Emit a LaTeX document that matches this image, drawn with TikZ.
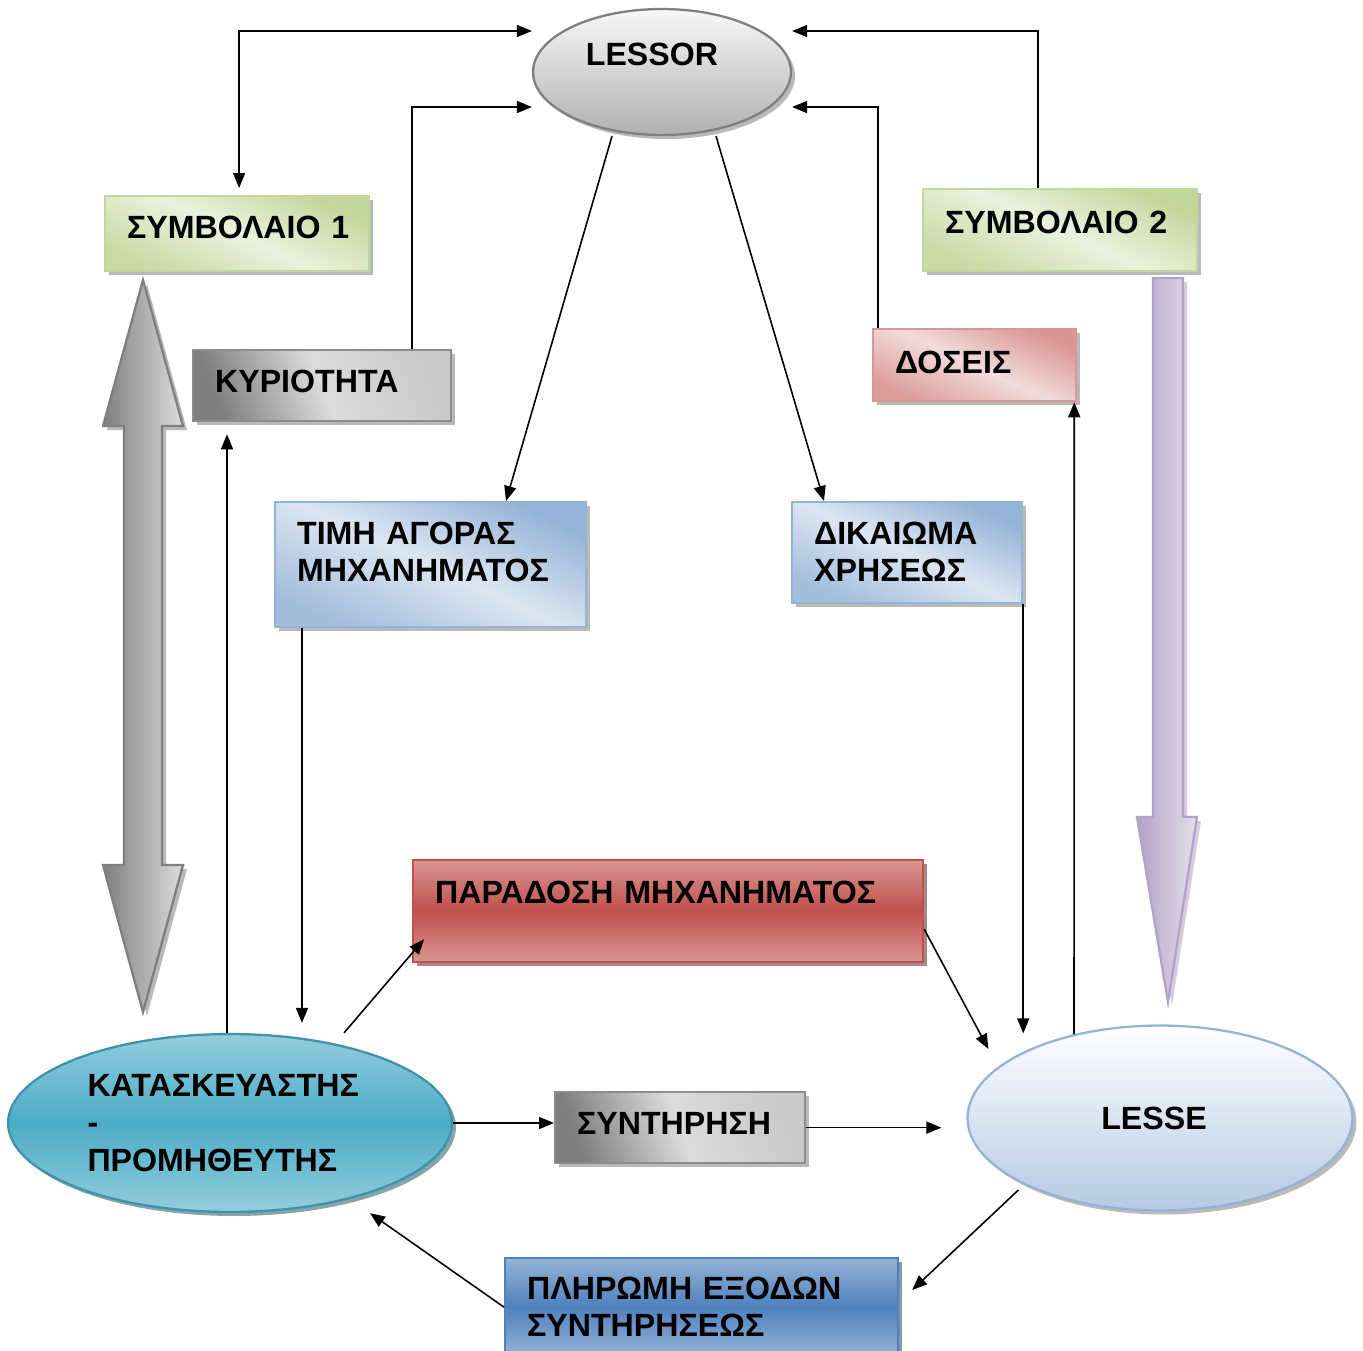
\documentclass[tikz,border=0pt]{standalone}
\usepackage{fontspec}
\setmainfont{Liberation Sans}
\usetikzlibrary{calc,positioning,shapes.geometric,shadows,arrows.meta}

\definecolor{olvDark}{HTML}{C3D69B}
\definecolor{olvLight}{HTML}{EBF1DE}
\definecolor{grDark}{HTML}{7F7F7F}
\definecolor{grLight}{HTML}{DCDCDC}
\definecolor{pinkDark}{HTML}{D99694}
\definecolor{pinkLight}{HTML}{F2DCDB}
\definecolor{bluDark}{HTML}{95B3D7}
\definecolor{bluLight}{HTML}{DCE6F2}
\definecolor{bluMid}{HTML}{4F81BD}
\definecolor{redMid}{HTML}{C0504D}
\definecolor{redShadow}{HTML}{632523}
\definecolor{tealMid}{HTML}{4BACC6}
\definecolor{tealLight}{HTML}{93CDDD}
\definecolor{tealShadow}{HTML}{215968}
\definecolor{lilDark}{HTML}{B3A2C7}
\definecolor{lilLight}{HTML}{E5E0EC}

\begin{document}
\begin{tikzpicture}[x=0.02cm, y=-0.02cm
        , every node/.style={font=\fontsize{18.3}{21.5}\selectfont\bfseries}
        , >={Triangle[length=0.3cm,width=0.24cm]}
        , conn/.style={line width=0.9pt, ->}
        , shad/.style={drop shadow={shadow xshift=0.08cm, shadow yshift=-0.08cm, fill=#1, opacity=0.55}}
        , shad/.default=gray
        , box/.style={draw, line width=1.3pt, rectangle, anchor=north west, inner xsep=0.44cm, inner ysep=0pt, align=left}
        , ell/.style={draw, line width=1.3pt, ellipse, inner sep=0pt}
        , greenbox/.style={box, shad, draw=olvDark, top color=olvDark, bottom color=olvDark!85!olvLight, middle color=olvLight, shading angle=-25}
        , graybox/.style={box, shad, draw=grDark!90, left color=grDark, right color=grLight!80!grDark, middle color=grLight, shading angle=110}
        , pinkbox/.style={box, shad, draw=pinkDark, top color=pinkDark, bottom color=pinkDark!90!pinkLight, middle color=pinkLight, shading angle=-25}
        , bluebox/.style={box, shad, draw=bluDark, top color=bluDark, bottom color=bluDark!80!bluLight, middle color=bluLight, shading angle=-25}
        ]
        \useasboundingbox (0,0) rectangle (1363,1350);

        % block arrows
        \draw[line width=1.3pt, draw=grDark, left color=grDark, right color=grLight, shad]
            (143,280) -- (183,426) -- (162,426) -- (162,865) -- (183,865) -- (143,1012)
            -- (103,865) -- (124,865) -- (124,426) -- (103,426) -- cycle;
        \draw[line width=1.3pt, draw=lilDark, left color=lilDark, right color=lilLight, shad=lilDark]
            (1153,278) -- (1183,278) -- (1183,817) -- (1197,817) -- (1168,1002)
            -- (1137,817) -- (1153,817) -- cycle;

        \node[ell, draw=grDark, shad, top color=white!94!gray, bottom color=gray!62,
              minimum width=5.16cm, minimum height=2.52cm, text height=0.44cm, text depth=0.72cm]
              (lessor) at (662,72) {LESSOR\hspace{0.4cm}\mbox{}};
        \node[ell, draw=tealMid!85!black, shad=tealShadow, top color=tealLight, bottom color=tealLight, middle color=tealMid,
              minimum width=8.88cm, minimum height=3.56cm, text width=5.7cm, align=left]
              (kat) at (230,1123) {ΚΑΤΑΣΚΕΥΑΣΤΗΣ\\-\\ΠΡΟΜΗΘΕΥΤΗΣ};
        \node[ell, draw=bluDark, shad, top color=white, bottom color=bluDark!70,
              minimum width=7.7cm, minimum height=3.7cm]
              (lesse) at (1160,1118) {LESSE\hspace{0.24cm}\mbox{}};

        \node[greenbox, text width=4.4cm, text height=0.84cm, text depth=0.66cm] (symA) at (104,195) {ΣΥΜΒΟΛΑΙΟ~1};
        \node[graybox, text width=4.28cm, text height=0.84cm, text depth=0.58cm] (kyr) at (192,349) {ΚΥΡΙΟΤΗΤΑ};
        \node[greenbox, text width=4.6cm, text height=0.88cm, text depth=0.76cm] (symB) at (922,188) {ΣΥΜΒΟΛΑΙΟ~2};
        \node[pinkbox, text width=3.18cm, text height=0.88cm, text depth=0.56cm] (dos) at (872,328) {ΔΟΣΕΙΣ};
        \node[bluebox, text width=5.34cm, text height=0.84cm, text depth=1.66cm] (tim) at (274,501) {ΤΙΜΗ ΑΓΟΡΑΣ\\ΜΗΧΑΝΗΜΑΤΟΣ};
        \node[bluebox, text width=3.72cm, text height=0.84cm, text depth=1.18cm] (dik) at (791,501) {ΔΙΚΑΙΩΜΑ\\ΧΡΗΣΕΩΣ};
        \node[box, shad=redShadow, draw=redMid, top color=pinkDark, bottom color=pinkDark, middle color=redMid,
              text width=9.32cm, text height=0.86cm, text depth=1.18cm] (par) at (412,859) {ΠΑΡΑΔΟΣΗ ΜΗΧΑΝΗΜΑΤΟΣ};
        \node[graybox, text width=4.12cm, text height=0.84cm, text depth=0.58cm] (syn) at (554,1091) {ΣΥΝΤΗΡΗΣΗ};
        \node[box, shad=bluMid!50!black, draw=bluMid, top color=bluDark, bottom color=bluDark, middle color=bluMid,
              text width=6.98cm, text height=0.82cm, text depth=1.14cm] (pla) at (504,1257) {ΠΛΗΡΩΜΗ ΕΞΟΔΩΝ\\ΣΥΝΤΗΡΗΣΕΩΣ};

        \draw[conn, <->] ($(lessor.west)+(0,-41)$) -| ($(symA.north)+(2,-7)$);
        \draw[conn] ($(kyr.north west)+(220,0)$) |- ($(lessor.west)+(0,35)$);
        \draw[conn] ($(symB.north west)+(116,0)$) |- ($(lessor.east)+(0,-41)$);
        \draw[conn] ($(dos.north west)+(6,0)$) |- ($(lessor.east)+(0,35)$);
        \draw[conn] ($(lessor.south)+(-50,0)$) -- ($(tim.north west)+(232,0)$);
        \draw[conn] ($(lessor.south)+(54,0)$) -- ($(dik.north west)+(33,0)$);
        \draw[conn] ($(tim.south west)+(28,0)$) -- ($(kat.north)+(72,-10)$);
        \draw[conn] ($(kat.north)+(-3,0)$) -- ($(kyr.south west)+(35,12)$);
        \draw[conn] ($(kat.north)+(114,0)$) -- ($(par.south west)+(12,-24)$);
        \draw[conn] ($(par.east)+(0,18)$) -- ($(lesse.west)+(22,-69)$);
        \draw[conn] (dik.south east) -- ($(dik.south east |- lesse.north)+(0,9)$);
        \draw[conn] ($(lesse.north)+(-86,10)$) -- ($(dos.south east)+(-3,0)$);
        \draw[conn] (kat.east) -- (kat.east -| syn.west);
        \draw[conn] (syn.east) -- ($(syn.east -| lesse.west)+(-25,0)$);
        \draw[conn] ($(lesse.west)+(52,72)$) -- ($(pla.north east)+(13,33)$);
        \draw[conn] (pla.west) -- ($(kat.south)+(140,0)$);

    \end{tikzpicture}
\end{document}
